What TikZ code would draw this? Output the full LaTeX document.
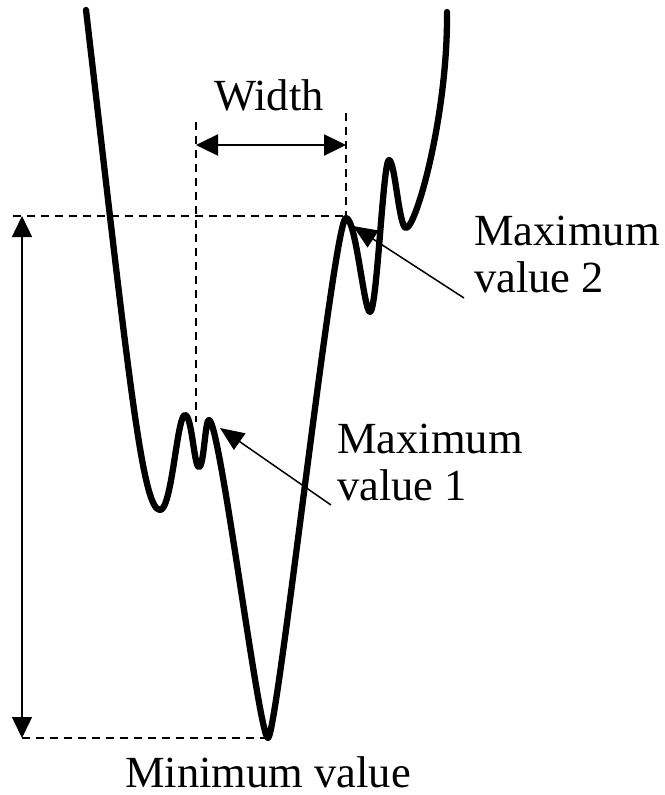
\documentclass[tikz,border=0pt]{standalone}
\usepackage{fontspec}
\setmainfont{Liberation Serif}
\usepackage{tikz}
\usetikzlibrary{arrows.meta,positioning,calc}
\tikzset{
  curve/.style={line width=6.3pt, line cap=round, line join=round},
  guide/.style={line width=2.2pt, dash pattern=on 8pt off 6pt},
  dimarrow/.style={{Triangle[length=21pt,width=20pt]}-{Triangle[length=21pt,width=20pt]}, line width=1.4pt},
  widtharrow/.style={{Triangle[length=22pt,width=21pt]}-{Triangle[length=22pt,width=21pt]}, line width=2.4pt},
  pointer/.style={-{Triangle[length=24pt,width=20pt]}, line width=1.5pt},
  lbl/.style={inner sep=0pt, font=\fontsize{44.5}{47}\selectfont, align=left}
}
\begin{document}
\begin{tikzpicture}[x=1pt, y=-1pt]
\useasboundingbox (0,0) rectangle (664,795);
% ---- key points of the profile ----
\coordinate (start) at (86,10);
\coordinate (locmin) at (160,510);
\coordinate (peak1a) at (185,415);
\coordinate (dip1) at (199,467);
\coordinate (peak1) at (209,420);
\coordinate (minval) at (268,738);
\coordinate (peak2) at (346,218);
\coordinate (dip2) at (370,312);
\coordinate (peak2b) at (389,160);
\coordinate (dip3) at (406,228);
\coordinate (finish) at (447,12);
% ---- profile ----
\draw[curve] (start) .. controls (128,370) and (142,510) .. (locmin)
  .. controls (172,510) and (177,415) .. (peak1a)
  .. controls (192,415) and (194,467) .. (dip1)
  .. controls (204,467) and (205,420) .. (peak1)
  .. controls (220,420) and (259,738) .. (minval)
  .. controls (277,738) and (334,218) .. (peak2)
  .. controls (356,218) and (364,312) .. (dip2)
  .. controls (377,312) and (383,160) .. (peak2b)
  .. controls (395,160) and (399,228) .. (dip3)
  .. controls (416,228) and (448,115) .. (finish);
% ---- guide lines ----
\coordinate (topleft) at (13,216);
\coordinate (botleft) at (22,738);
\coordinate (wl) at (196,122);
\coordinate (wlb) at (196,422);
\coordinate (wr) at (346,113);
\draw[guide] (topleft) -- (peak2 |- topleft);
\draw[guide] (botleft) -- (minval);
\draw[guide] (wl) -- (wlb);
\draw[guide] (wr) -- (peak2 |- topleft);
% ---- dimensions ----
\draw[dimarrow] (botleft |- topleft) -- (botleft);
\draw[widtharrow] (196,145) coordinate (wa) -- (wa -| wr);
\node[lbl, anchor=base] (width) at (269,110) {Width};
% ---- labels ----
\node[lbl, anchor=base west] (max2) at (474,292) {Maximum\\value 2};
\node[lbl, anchor=base west] (max1) at (337,500) {Maximum\\value 1};
\node[lbl, anchor=base] (minlbl) at (268,787) {Minimum value};
\draw[pointer] (464,298) coordinate (p2) -- (353,226);
\draw[pointer] (331,505) coordinate (p1) -- (220,428);
\end{tikzpicture}
\end{document}
